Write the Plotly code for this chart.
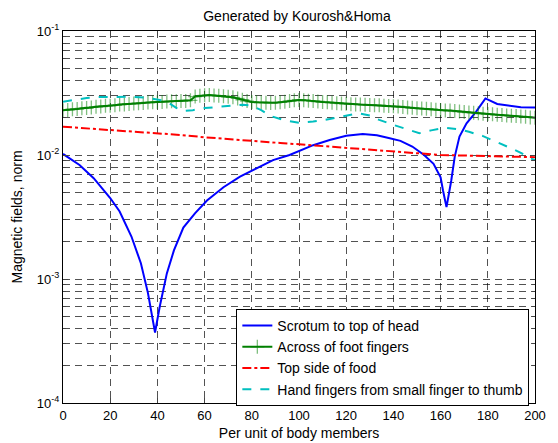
import plotly.graph_objects as go

# ---- data ----
blue_x = [0, 7, 13, 20, 24, 29, 33, 36, 39, 41, 44, 47, 51, 56, 61, 68, 75, 82, 89, 96,
          100, 106, 113, 120, 127, 133, 138, 143, 148, 153, 157, 160, 161, 162.5, 164.5,
          166, 168, 171, 175, 179, 184, 188, 194, 200]
blue_y = [0.0102, 0.0083, 0.0065, 0.0045, 0.0035, 0.0022, 0.00134, 0.00077, 0.00037, 0.0006,
          0.00111, 0.0017, 0.0026, 0.0034, 0.0043, 0.0055, 0.0067, 0.0078, 0.0091, 0.0100,
          0.0108, 0.0120, 0.0132, 0.0143, 0.0148, 0.0144, 0.0137, 0.0130, 0.0117, 0.0100,
          0.0085, 0.0066, 0.0052, 0.0038, 0.0062, 0.0097, 0.0141, 0.0180, 0.0223, 0.0286,
          0.0258, 0.0253, 0.0243, 0.0242]

green_x = list(range(0, 201, 2))
green_y = [0.0230, 0.0231, 0.0234, 0.0235, 0.0238, 0.0239, 0.0242, 0.0245, 0.0246, 0.0249,
           0.0250, 0.0252, 0.0255, 0.0256, 0.0258, 0.0260, 0.0262, 0.0263, 0.0265, 0.0266,
           0.0268, 0.0268, 0.0270, 0.0271, 0.0271, 0.0272, 0.0273, 0.0276, 0.0296, 0.0300,
           0.0303, 0.0304, 0.0302, 0.0300, 0.0298, 0.0295, 0.0292, 0.0286, 0.0279, 0.0272,
           0.0268, 0.0266, 0.0265, 0.0264, 0.0263, 0.0264, 0.0266, 0.0269, 0.0272, 0.0276,
           0.0278, 0.0277, 0.0274, 0.0272, 0.0270, 0.0267, 0.0266, 0.0264, 0.0262, 0.0260,
           0.0259, 0.0257, 0.0256, 0.0255, 0.0254, 0.0253, 0.0252, 0.0252, 0.0250, 0.0248,
           0.0247, 0.0246, 0.0244, 0.0242, 0.0240, 0.0238, 0.0237, 0.0236, 0.0234, 0.0232,
           0.0231, 0.0229, 0.0228, 0.0226, 0.0224, 0.0222, 0.0220, 0.0219, 0.0217, 0.0215,
           0.0214, 0.0213, 0.0211, 0.0210, 0.0208, 0.0207, 0.0206, 0.0204, 0.0203, 0.0201,
           0.0200]

red_x = [0, 10, 20, 30, 40, 50, 60, 66, 79, 92, 100, 110, 119, 133, 140, 150, 160, 170, 180, 190, 200]
red_y = [0.0169, 0.0164, 0.0159, 0.0155, 0.0150, 0.0145, 0.0139, 0.0136, 0.0131, 0.0125, 0.0122,
         0.0118, 0.0115, 0.0110, 0.0106, 0.0103, 0.0100, 0.0099, 0.0098, 0.0097, 0.0096]

cyan_x = [0, 5, 10, 15, 20, 28, 35, 41, 45, 48, 51, 55, 60, 66, 72, 76, 80, 84, 88, 94, 100,
          106, 113, 119, 125, 130, 134, 140, 146, 151, 156, 162, 167, 172, 178, 185, 190, 194, 198, 200]
cyan_y = [0.0269, 0.0280, 0.0288, 0.0293, 0.0295, 0.0295, 0.0290, 0.0278, 0.0262, 0.0240, 0.0226,
          0.0230, 0.0239, 0.0245, 0.0252, 0.0254, 0.0250, 0.0230, 0.0206, 0.0190, 0.0182,
          0.0186, 0.0195, 0.0205, 0.0217, 0.0208, 0.0192, 0.0175, 0.0160, 0.0150, 0.0158,
          0.0166, 0.0162, 0.0154, 0.0142, 0.0125, 0.0113, 0.0104, 0.0094, 0.0091]

names = ["Scrotum to top of head", "Across of foot fingers", "Top side of food",
         "Hand fingers from small finger to thumb"]
title_text = "Generated by Kourosh&Homa"
x_title = "Per unit of body members"
y_title = "Magnetic fields, norm"
x_ticks = list(range(0, 201, 20))
y_tickvals = [1e-4, 1e-3, 1e-2, 1e-1]
y_ticktext = ["10<sup>-4</sup>", "10<sup>-3</sup>", "10<sup>-2</sup>", "10<sup>-1</sup>"]
y_minor = [m * 10.0 ** e for e in (-4, -3, -2) for m in range(2, 10)]

FONT = "Liberation Sans, Arial, Helvetica, sans-serif"
GRID = "rgba(0,0,0,0.68)"
DASH = "7px,5px"

fig = go.Figure()
fig.add_trace(go.Scatter(x=blue_x, y=blue_y, mode="lines", name=names[0],
                         line=dict(color="#0000ff", width=2)))
fig.add_trace(go.Scatter(x=green_x, y=green_y, mode="lines+markers", name=names[1],
                         line=dict(color="#008000", width=2),
                         marker=dict(symbol="cross-thin", size=10,
                                     line=dict(color="rgba(0,128,0,0.5)", width=1.3))))
fig.add_trace(go.Scatter(x=red_x, y=red_y, mode="lines", name=names[2],
                         line=dict(color="#ff0000", width=2, dash="dashdot")))
fig.add_trace(go.Scatter(x=cyan_x, y=cyan_y, mode="lines", name=names[3],
                         line=dict(color="#00bfbf", width=2, dash="dash")))

# the page body has an 8px margin: shrink the figure so the plot lands where the reference has it
fig.update_layout(
    width=550, height=435,
    margin=dict(l=55, r=23, t=23, b=40, autoexpand=False),
    paper_bgcolor="white", plot_bgcolor="white",
    font=dict(family=FONT, size=12, color="black"),
    title=dict(text=title_text, x=0.5255, xanchor="center", y=0.9816, yanchor="middle",
               font=dict(size=14)),
    showlegend=True,
    legend=dict(x=0.988, xanchor="right", y=-0.008, yanchor="bottom",
                bgcolor="white", bordercolor="black", borderwidth=1,
                font=dict(size=14), tracegroupgap=0),
)
fig.update_xaxes(range=[0, 200], tickvals=x_ticks, ticks="inside", ticklen=5,
                 showline=True, linecolor="black", linewidth=1, mirror="ticks",
                 showgrid=True, gridcolor=GRID, griddash=DASH, gridwidth=1,
                 zeroline=False, automargin=False, title=dict(text=x_title, standoff=6),
                 tickfont=dict(size=13))
fig.update_yaxes(type="log", range=[-4, -1], tickvals=y_tickvals, ticktext=y_ticktext,
                 ticks="inside", ticklen=5,
                 showline=True, linecolor="black", linewidth=1, mirror="ticks",
                 showgrid=True, gridcolor=GRID, griddash=DASH, gridwidth=1,
                 zeroline=False, automargin=False, title=dict(text=y_title, standoff=10),
                 tickfont=dict(size=13),
                 minor=dict(tickvals=y_minor, ticks="inside", ticklen=3,
                            showgrid=True, gridcolor=GRID, griddash=DASH, gridwidth=1))

fig.write_html("out.html")
